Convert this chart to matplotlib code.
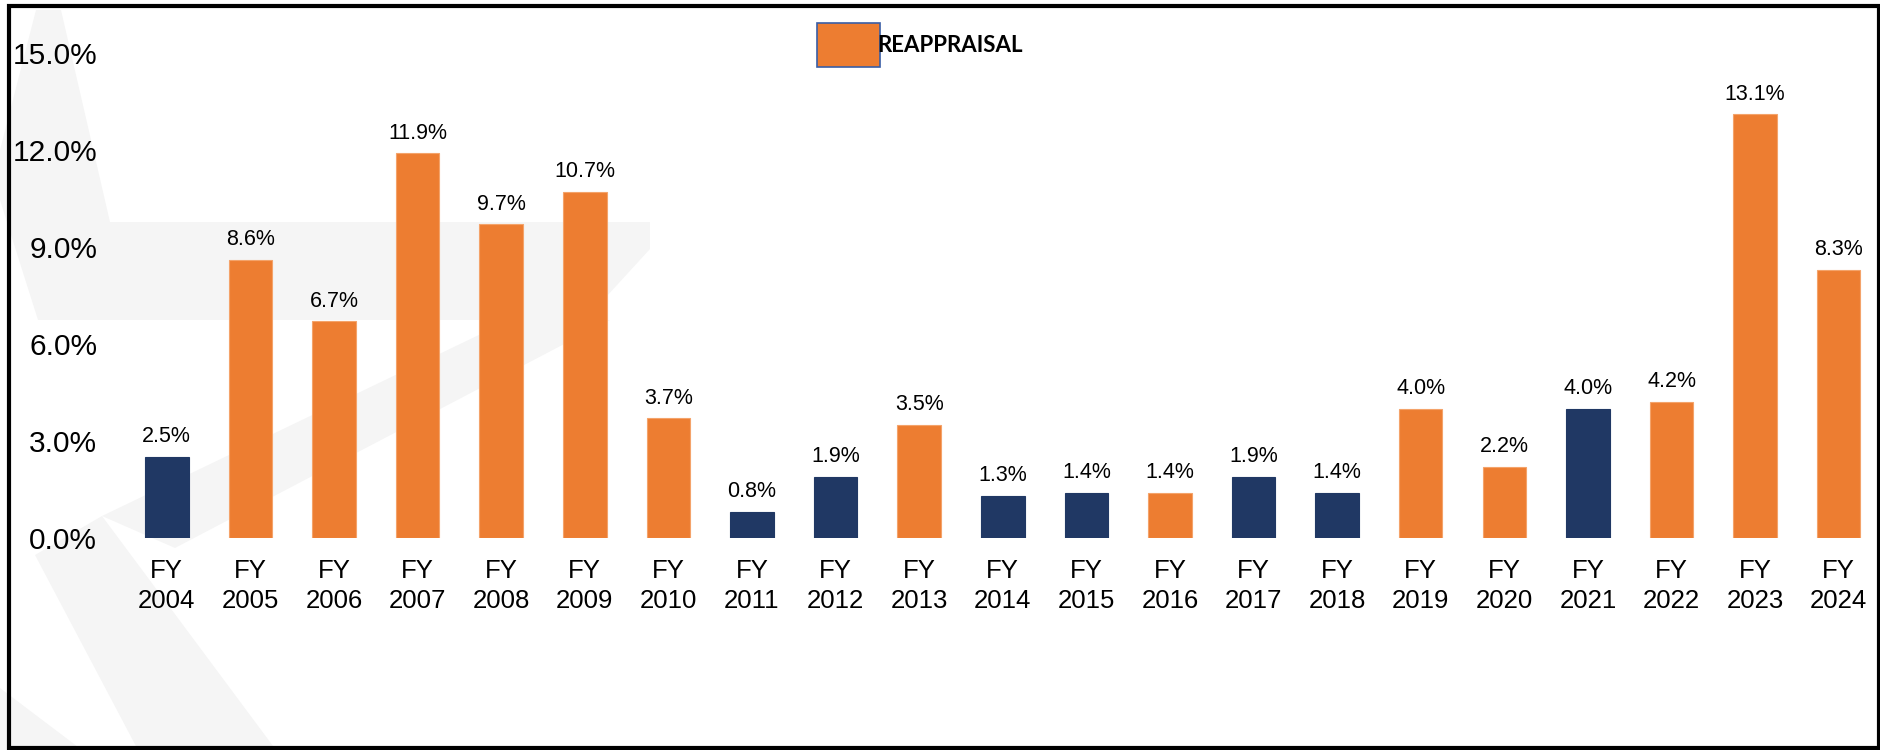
import matplotlib.pyplot as plt
from matplotlib.patches import Patch, Polygon, Rectangle
from matplotlib.ticker import FuncFormatter

# data
years = list(range(2004, 2025))
values = [2.5, 8.6, 6.7, 11.9, 9.7, 10.7, 3.7, 0.8, 1.9, 3.5, 1.3,
          1.4, 1.4, 1.9, 1.4, 4.0, 2.2, 4.0, 4.2, 13.1, 8.3]
# True = reappraisal year (orange), False = navy
reappraisal = [False, True, True, True, True, True, True, False, False, True, False,
               False, True, False, False, True, True, False, True, True, True]
yticks = [0, 3, 6, 9, 12, 15]
legend_label = 'REAPPRAISAL'

ORANGE = '#ED7D31'
NAVY = '#203864'
W, H = 1881, 750

plt.rcParams['font.family'] = ['Liberation Sans', 'DejaVu Sans']

fig = plt.figure(figsize=(W / 100, H / 100), dpi=100)

# faint background logo, drawn in pixel coordinates
bg = fig.add_axes([0, 0, 1, 1])
bg.set_xlim(0, W)
bg.set_ylim(H, 0)
bg.axis('off')
wm = '#f5f5f5'
shapes = [
    [(36, 10), (61, 10), (110, 222), (650, 222), (650, 249), (585, 320), (38, 320), (0, 200), (0, 150)],
    [(102, 516), (175, 548), (610, 320), (510, 320)],
    [(35, 555), (102, 516), (276, 750), (138, 750)],
    [(0, 688), (82, 750), (0, 750)],
]
for pts in shapes:
    bg.add_patch(Polygon(pts, closed=True, facecolor=wm, edgecolor='none'))
# outer frame
bg.add_patch(Rectangle((9, 6), 1870, 742, fill=False, edgecolor='black', linewidth=3))

ax = fig.add_axes([125 / W, (H - 538) / H, (1868 - 125) / W, (538 - 53) / H])
ax.patch.set_alpha(0)

x = list(range(len(years)))
colors = [ORANGE if r else NAVY for r in reappraisal]
edges = ['#f4a36a' if r else NAVY for r in reappraisal]
bars = ax.bar(x, values, width=0.52, color=colors, edgecolor=edges, linewidth=0.8, zorder=2)

for b, v in zip(bars, values):
    ax.annotate(f'{v:.1f}%', (b.get_x() + b.get_width() / 2, v),
                xytext=(0, 7), textcoords='offset points',
                ha='center', va='bottom', fontsize=15.5, color='black')

ax.set_xlim(-0.5, 20.35)
ax.set_ylim(0, 15)
ax.set_yticks(yticks)
ax.yaxis.set_major_formatter(FuncFormatter(lambda v, p: f'{v:.1f}%'))
ax.set_xticks(x)
ax.set_xticklabels([f'FY\n{y}' for y in years], linespacing=1.35)
ax.tick_params(axis='y', length=0, pad=20, labelsize=21.5)
ax.tick_params(axis='x', length=0, pad=15, labelsize=18.5)
for s in ax.spines.values():
    s.set_visible(False)

handle = Patch(facecolor=ORANGE, edgecolor='#3a5ea6', linewidth=1.2)
fig.legend(handles=[handle], labels=[legend_label], loc='upper left',
           bbox_to_anchor=(817 / W, 1 - 23 / H), frameon=False,
           borderpad=0, borderaxespad=0, handlelength=2.84, handleheight=2.67,
           handletextpad=-0.15, prop={'family': 'Lato', 'weight': 'bold', 'size': 16})

fig.savefig('out.png', dpi=100)
